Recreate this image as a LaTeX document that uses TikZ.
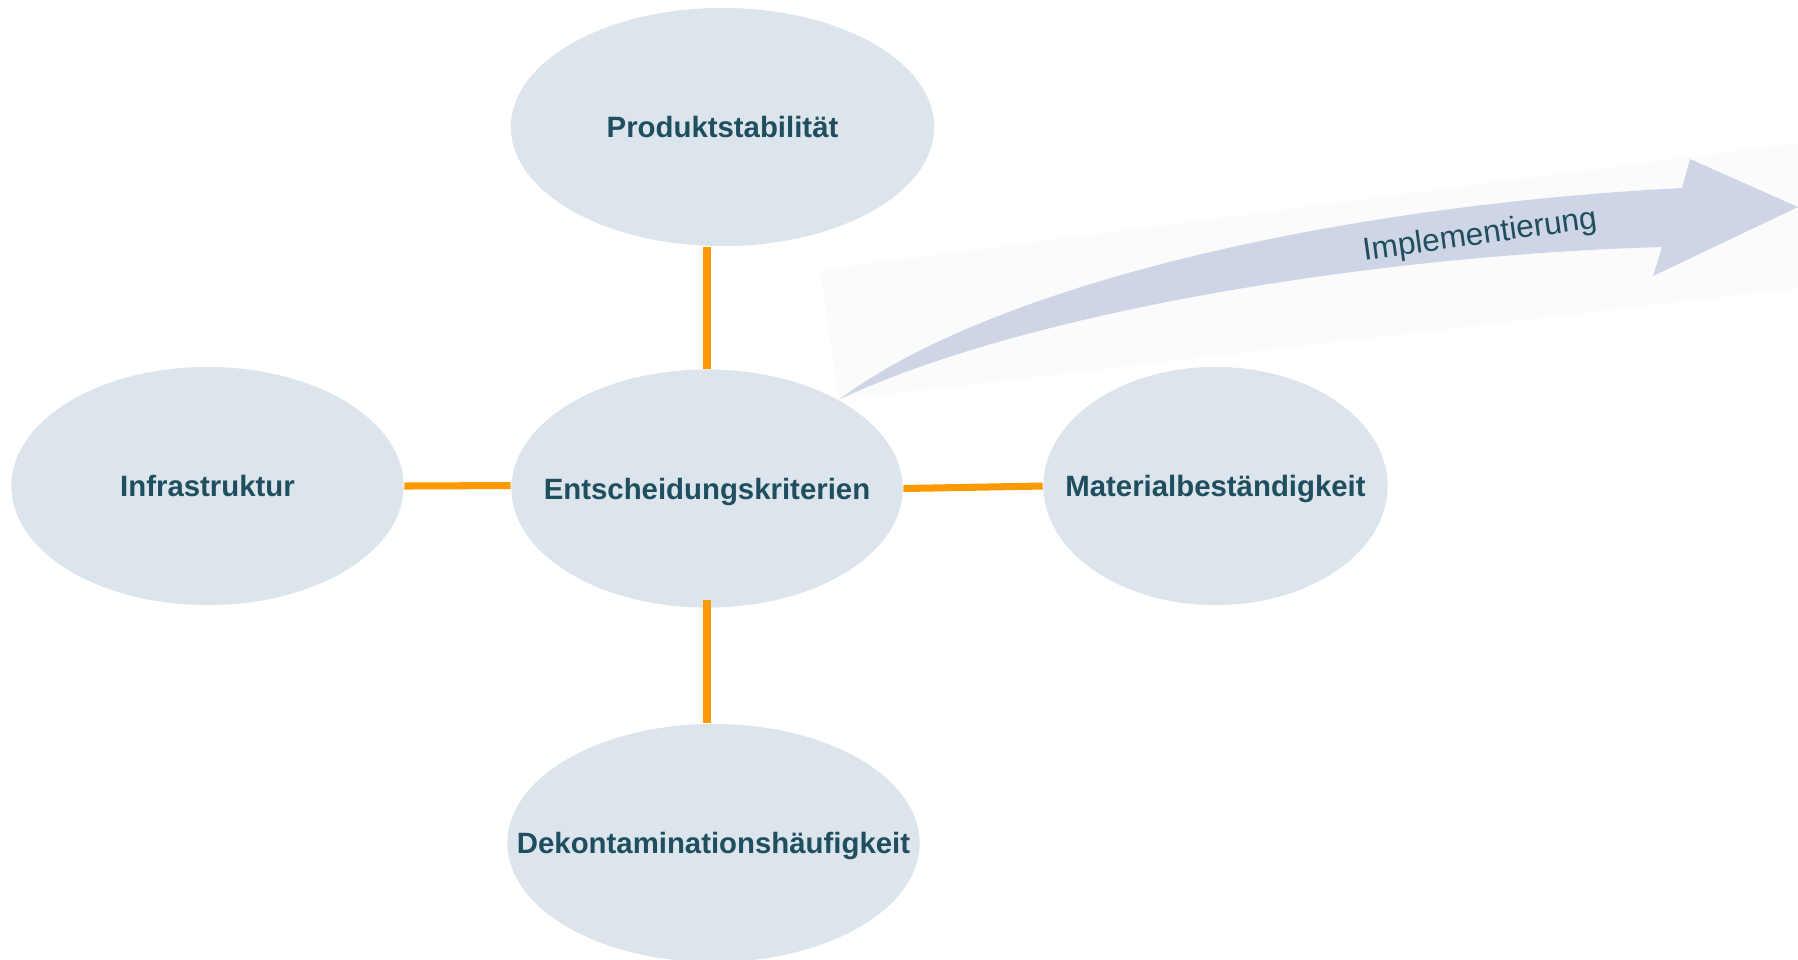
\documentclass[tikz,border=0pt]{standalone}
\usepackage{fontspec}
\setmainfont{Liberation Sans}
\usetikzlibrary{shapes.geometric}

\definecolor{bubblegray}{HTML}{DCE4EC}
\definecolor{labelteal}{HTML}{1F4E5F}
\definecolor{linkorange}{HTML}{FF9900}
\definecolor{arrowblue}{HTML}{CDD5E6}
\definecolor{bandgray}{HTML}{FBFBFB}

\begin{document}
\begin{tikzpicture}[x=0.01cm, y=-0.01cm,
    bubble/.style={ellipse, fill=bubblegray, inner sep=0pt, minimum height=2.38cm, text depth=0pt,
        font=\fontsize{8.35}{10}\selectfont\bfseries, text=labelteal},
    link/.style={draw=linkorange, line width=2pt}]
    \useasboundingbox (0,0) rectangle (1798,959);

    \node[bubble, minimum width=4.23cm] (prod) at (722.5,127) {\makebox[0pt]{Produktstabilität}};
    \node[bubble, minimum width=3.92cm] (infra) at (207.5,486) {\makebox[0pt]{Infrastruktur}};
    \node[bubble, minimum width=3.91cm] (entsch) at (707,488.5) {\makebox[0pt]{Entscheidungskriterien}};
    \node[bubble, minimum width=3.44cm] (mat) at (1215.5,486) {\makebox[0pt]{Materialbeständigkeit}};
    \node[bubble, minimum width=4.12cm] (dekon) at (713.5,843) {\makebox[0pt]{Dekontaminationshäufigkeit}};

    \coordinate (tail) at (entsch.34.4);
    \fill[bandgray] (820,270) -- (1798,143) -- (1798,288) -- (tail) -- cycle;
    \fill[arrowblue] (tail) .. controls (1000,280) and (1350,205) .. (1682,188)
        -- (1690,159) -- (1798,207) -- (1653,276) -- (1662,247)
        .. controls (1380,255) and (1030,310) .. (tail) -- cycle;
    \node[rotate=8, text=labelteal, font=\fontsize{9}{11}\selectfont] (impl) at (1480,236) {Implementierung};

    \draw[link] (entsch.north) -- (entsch.north |- prod.south);
    \draw[link] (infra.east) -- ([yshift=0.03cm]entsch.west);
    \draw[link] (entsch.east) -- (mat.west);
    \draw[link] ([yshift=0.08cm]entsch.south) -- (entsch.south |- dekon.north);

\end{tikzpicture}
\end{document}
